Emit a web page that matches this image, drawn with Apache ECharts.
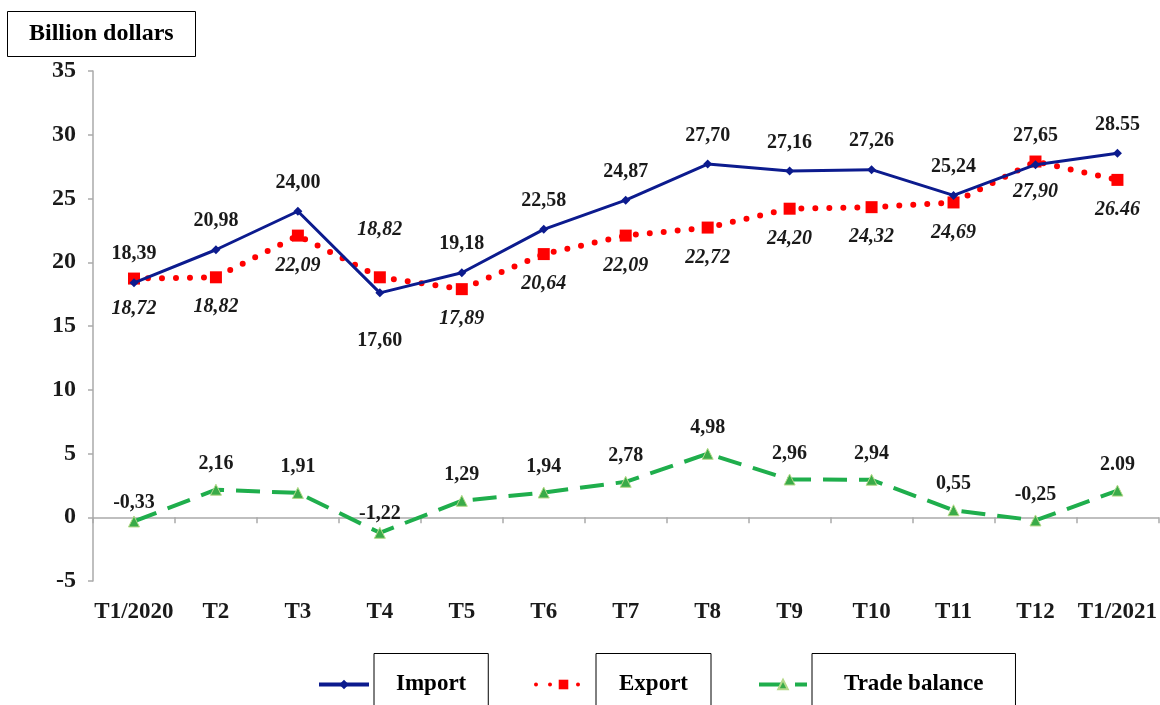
<!DOCTYPE html>
<html>
<head>
<meta charset="utf-8">
<script src="https://cdn.jsdelivr.net/npm/echarts@6/dist/echarts.min.js"></script>
<style>
  html, body { margin: 0; background: #fff; }
  #chart { width: 1160px; height: 705px; }
</style>
</head>
<body>
<div id="chart"></div>
<script>
const categories = ['T1/2020', 'T2', 'T3', 'T4', 'T5', 'T6', 'T7', 'T8', 'T9', 'T10', 'T11', 'T12', 'T1/2021']
const importVals = [18.39, 20.98, 24.00, 17.60, 19.18, 22.58, 24.87, 27.70, 27.16, 27.26, 25.24, 27.65, 28.55]
const exportVals = [18.72, 18.82, 22.09, 18.82, 17.89, 20.64, 22.09, 22.72, 24.20, 24.32, 24.69, 27.90, 26.46]
const balanceVals = [-0.33, 2.16, 1.91, -1.22, 1.29, 1.94, 2.78, 4.98, 2.96, 2.94, 0.55, -0.25, 2.09]

const FONT = "'Liberation Serif', 'Times New Roman', serif"
const NAVY = '#0c1b8e'
const RED = '#ff0000'
const GREEN = '#1fae4c'

// the source writes decimals with a comma, except the last month
function fmt(v, i) {
  const s = v.toFixed(2)
  return i === categories.length - 1 ? s : s.replace('.', ',')
}

const labelBase = {
  show: true,
  fontFamily: FONT,
  fontWeight: 'bold',
  fontSize: 20,
  color: '#1a1a1a',
}

function legendBox(name, left, iconW, padX) {
  return {
    data: [name],
    left: left,
    top: 653,
    padding: 0,
    itemWidth: iconW,
    itemHeight: 12,
    selectedMode: false,
    lineStyle: { width: 4 },
    textStyle: {
      fontFamily: FONT,
      fontWeight: 'bold',
      fontSize: 23,
      color: '#000',
      lineHeight: 26,
      padding: [12, padX, 24, padX],
      borderColor: '#000',
      borderWidth: 1,
    },
  }
}

const chart = echarts.init(document.getElementById('chart'))
chart.setOption({
  animation: false,
  title: {
    text: 'Billion dollars',
    left: 7,
    top: 11,
    padding: [11, 22, 11, 22],
    borderColor: '#000',
    borderWidth: 1,
    textStyle: { fontFamily: FONT, fontWeight: 'bold', fontSize: 24, lineHeight: 24, color: '#000' },
  },
  grid: { left: 93, right: 0, top: 71, bottom: 124 },
  legend: [
    legendBox('Import', 317, 50, 22),
    legendBox('Export', 534, 55, 23),
    legendBox('Trade balance', 757, 48, 32),
  ],
  xAxis: [
    {
      // line through zero with the ticks
      type: 'category',
      data: categories,
      axisLine: { onZero: true, lineStyle: { color: '#aaa', width: 1.5 } },
      axisTick: { show: true, length: 6, lineStyle: { color: '#aaa', width: 1.5 } },
      axisLabel: { show: false },
    },
    {
      // labels at the bottom
      type: 'category',
      data: categories,
      position: 'bottom',
      axisLine: { show: false, onZero: false },
      axisTick: { show: false },
      axisLabel: { fontFamily: FONT, fontWeight: 'bold', fontSize: 23, color: '#1a1a1a', margin: 20, interval: 0 },
    },
  ],
  yAxis: {
    type: 'value',
    min: -5,
    max: 35,
    interval: 5,
    splitLine: { show: false },
    axisLine: { show: true, lineStyle: { color: '#aaa', width: 1.5 } },
    axisTick: { show: true, length: 5, lineStyle: { color: '#aaa', width: 1.5 } },
    axisLabel: { fontFamily: FONT, fontWeight: 'bold', fontSize: 24, color: '#1a1a1a', margin: 17 },
  },
  series: [
    {
      name: 'Import',
      type: 'line',
      z: 3,
      symbol: 'diamond',
      symbolSize: 9,
      itemStyle: { color: NAVY },
      lineStyle: { color: NAVY, width: 3 },
      label: { ...labelBase, position: 'top', distance: 14, formatter: p => fmt(p.value, p.dataIndex) },
      data: importVals.map((v, i) =>
        i === 3 ? { value: v, label: { position: 'bottom', distance: 33 } } : v
      ),
    },
    {
      name: 'Export',
      type: 'line',
      z: 2,
      symbol: 'rect',
      symbolSize: 12,
      itemStyle: { color: RED },
      lineStyle: { color: RED, width: 6, type: [0, 14], cap: 'round' },
      label: { ...labelBase, fontStyle: 'italic', position: 'bottom', distance: 14, formatter: p => fmt(p.value, p.dataIndex) },
      data: exportVals.map((v, i) =>
        i === 3 ? { value: v, label: { position: 'top', distance: 31 } } : v
      ),
    },
    {
      name: 'Trade balance',
      type: 'line',
      symbol: 'triangle',
      symbolSize: 11,
      itemStyle: { color: '#3aab48', borderColor: '#b5d98a', borderWidth: 1 },
      lineStyle: { color: GREEN, width: 4, type: [24, 12] },
      label: { ...labelBase, position: 'top', distance: 10, formatter: p => fmt(p.value, p.dataIndex) },
      data: balanceVals.map((v, i) =>
        i === 0 || i === 3 ? { value: v, label: { distance: 3 } } : v
      ),
    },
  ],
})
</script>
</body>
</html>
